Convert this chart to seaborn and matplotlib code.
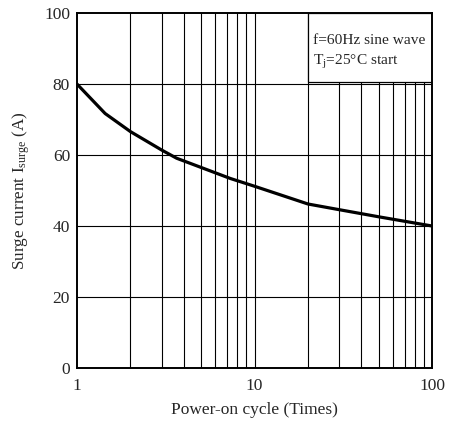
import matplotlib
matplotlib.use("Agg")
import matplotlib.pyplot as plt
import seaborn as sns
import pandas as pd
from matplotlib.patches import Rectangle

cycles = [1, 1.44, 2, 3, 3.64, 5, 7.3, 10, 20, 30, 50, 100]
current = [80, 71.7, 66.6, 61.4, 59.1, 56.5, 53.4, 51.2, 46.2, 44.6, 42.6, 40]
x_ticks = [1, 10, 100]
x_ticklabels = ["1", "10", "100"]
y_ticks = [0, 20, 40, 60, 80, 100]

sns.set_style("white")
plt.rcParams['font.family'] = ['Liberation Serif', 'DejaVu Serif']
plt.rcParams['mathtext.fontset'] = 'custom'
plt.rcParams['mathtext.rm'] = 'Liberation Serif'
plt.rcParams['mathtext.it'] = 'Liberation Serif:italic'

df = pd.DataFrame({"cycle": cycles, "current": current})

fig = plt.figure(figsize=(4.53, 4.22), dpi=100)
ax = fig.add_axes([0.170, 0.128, 0.784, 0.841])

ax.set_xscale("log")
ax.set_xlim(1, 100)
ax.set_ylim(0, 100)

# grid
minor = [m * d for d in (1, 10) for m in range(2, 10)]
for v in minor:
    ax.axvline(v, color="black", lw=0.8, zorder=1)
ax.axvline(10, color="black", lw=0.8, zorder=1)
for v in [20, 40, 60, 80]:
    ax.axhline(v, color="black", lw=0.8, zorder=1)

sns.lineplot(data=df, x="cycle", y="current", ax=ax, color="black", lw=2.3, zorder=3)

ax.add_patch(Rectangle((0.651, 0.806), 0.349, 0.194, transform=ax.transAxes,
                       facecolor="white", edgecolor="black", lw=0.9, zorder=4))
ax.text(0.665, 0.922, "f=60Hz sine wave", transform=ax.transAxes, fontsize=11.1,
        va="center", ha="left", zorder=5)
ax.text(0.665, 0.862, r"T$_{\mathrm{j}}$=25°C start", transform=ax.transAxes, fontsize=11.1,
        va="center", ha="left", zorder=5)

ax.set_xticks(x_ticks)
ax.set_xticklabels(x_ticklabels)
ax.xaxis.set_minor_locator(matplotlib.ticker.NullLocator())
ax.set_yticks(y_ticks)
ax.tick_params(axis="both", labelsize=12.5, length=0)
ax.tick_params(axis="x", pad=7)
ax.tick_params(axis="y", pad=5)

ax.set_xlabel("Power-on cycle (Times)", fontsize=12.5, labelpad=6)
ax.set_ylabel(r"Surge current I$_{\mathrm{surge}}$ (A)", fontsize=12.3, labelpad=9)

for s in ax.spines.values():
    s.set_color("black")
    s.set_linewidth(1.4)
    s.set_zorder(6)

fig.savefig("out.png", dpi=100)
